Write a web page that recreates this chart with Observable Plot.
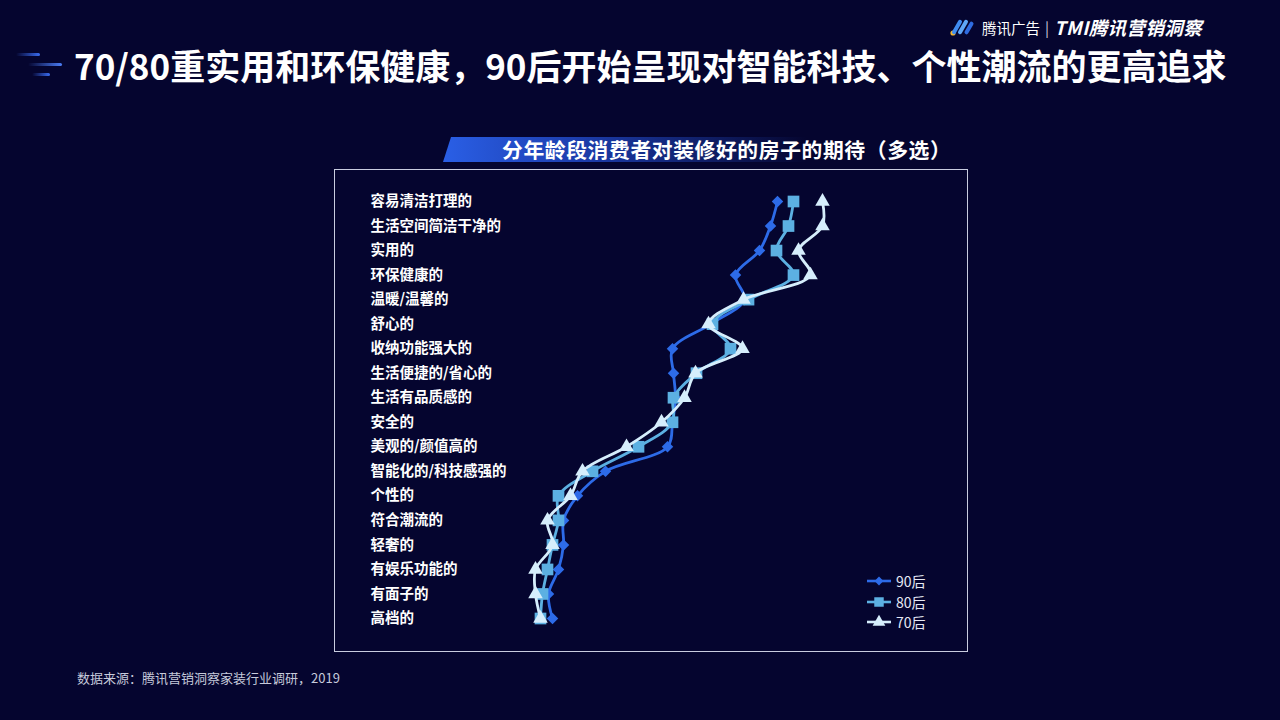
<!DOCTYPE html>
<html><head><meta charset="utf-8">
<script src="https://cdn.jsdelivr.net/npm/d3@7"></script>
<script src="https://cdn.jsdelivr.net/npm/@observablehq/plot@0.6"></script>
<style>
html,body{margin:0;padding:0;}
body{width:1280px;height:720px;background:#05052f;position:relative;overflow:hidden;font-family:"Noto Sans CJK SC","Noto Sans",sans-serif;color:#fff;}
.abs{position:absolute;}
#title{left:74px;top:42px;font-size:35px;font-weight:700;white-space:nowrap;letter-spacing:0px;line-height:46px;}
#deco div{position:absolute;height:3px;border-radius:2px;}
#logo{left:950px;top:14px;height:26px;white-space:nowrap;display:flex;align-items:center;}
#banner{left:443px;top:137px;width:520px;height:25px;background:linear-gradient(90deg,#2a5fe6 0%,#1d3fb0 25%,rgba(5,5,47,0) 70%);clip-path:polygon(8px 0,100% 0,100% 100%,0 100%);}
#subtitle{left:502px;top:135px;font-size:20.8px;font-weight:700;white-space:nowrap;line-height:28px;letter-spacing:0.6px;}
#box{left:334px;top:169px;width:632px;height:481px;border:1px solid #c9cde0;}
#chart{position:absolute;left:0;top:0;}
#chart svg{display:block;}
#legend{left:866px;top:571px;font-size:14px;color:#e6e9f5;}
.li{display:flex;align-items:center;height:20.5px;}
#source{left:77px;top:668px;font-size:13px;color:#c6cadb;white-space:nowrap;}
</style></head>
<body>
<div id="deco" class="abs" style="left:0;top:0;">
  <div style="left:16px;top:53px;width:24px;background:linear-gradient(90deg,rgba(40,90,230,0),#3a6cf0);"></div>
  <div style="left:28px;top:63px;width:34px;background:linear-gradient(90deg,rgba(40,90,230,0),#4a7cf5);"></div>
  <div style="left:32px;top:73px;width:18px;background:linear-gradient(90deg,rgba(40,90,230,0),#3a6cf0);"></div>
</div>
<div id="title" class="abs">70/80重实用和环保健康，90后开始呈现对智能科技、个性潮流的更高追求</div>
<div id="logo" class="abs">
  <svg width="26" height="20" viewBox="0 0 26 20">
    <circle cx="3" cy="16" r="2.6" fill="#f2b632"/>
    <rect x="5" y="2" width="4" height="16" rx="2" transform="rotate(30 7 10)" fill="#3f8cf0"/>
    <rect x="11" y="2" width="4" height="16" rx="2" transform="rotate(30 13 10)" fill="#5fa8f7"/>
    <rect x="17" y="4" width="4" height="14" rx="2" transform="rotate(30 19 11)" fill="#2f6ce0"/>
  </svg>
  <span style="font-size:14.5px;margin-left:6px;">腾讯广告</span>
  <span style="font-size:15px;margin:0 5px;color:#ccd;">|</span>
  <span style="font-size:18.5px;font-weight:700;font-style:italic;letter-spacing:0.4px;">TMI腾讯营销洞察</span>
</div>
<div id="banner" class="abs"></div>
<div id="subtitle" class="abs">分年龄段消费者对装修好的房子的期待（多选）</div>
<div id="box" class="abs"><div id="chart"></div></div>
<div id="legend" class="abs"></div>
<div id="source" class="abs">数据来源：腾讯营销洞察家装行业调研，2019</div>
<script>
const categories = ["容易清洁打理的","生活空间简洁干净的","实用的","环保健康的","温暖/温馨的","舒心的","收纳功能强大的","生活便捷的/省心的","生活有品质感的","安全的","美观的/颜值高的","智能化的/科技感强的","个性的","符合潮流的","轻奢的","有娱乐功能的","有面子的","高档的"];
const seriesNames = ["90后","80后","70后"];
const values90 = [33.7,33.0,31.9,29.5,30.4,27.0,23.2,23.3,23.5,23.2,22.7,16.5,13.7,12.3,12.3,11.8,10.8,11.2];
const values80 = [35.3,34.8,33.6,35.3,30.8,27.2,29.0,25.6,23.3,23.2,19.8,15.2,11.8,11.8,11.2,10.7,10.2,10.0];
const values70 = [38.2,38.2,35.8,37.0,30.3,26.8,30.2,25.5,24.4,22.1,18.6,14.2,13.0,10.7,11.2,9.5,9.5,10.0];

const colors = {"90后":"#2d6be8","80后":"#5cb0e2","70后":"#d6eefc"};
const symbols = {"90后":"diamond2","80后":"square","70后":"triangle"};
const radii = {"90后":5.2,"80后":6.6,"70后":5.4};

const rows = [];
[values90, values80, values70].forEach((vals, si) => {
  vals.forEach((v, i) => rows.push({series: seriesNames[si], cat: categories[i], value: v}));
});

const marks = [
  Plot.text(categories, {y: d => d, text: d => d, frameAnchor: "left", textAnchor: "start", fill: "#ffffff", fontSize: 14.5, fontWeight: 600})
];
seriesNames.forEach(s => {
  const d = rows.filter(r => r.series === s);
  marks.push(Plot.line(d, {x: "value", y: "cat", stroke: colors[s], strokeWidth: 2.8, curve: "catmull-rom"}));
  marks.push(Plot.dot(d, {x: "value", y: "cat", symbol: () => symbols[s], r: radii[s], fill: colors[s], stroke: "none"}));
});

const chart = Plot.plot({
  width: 632, height: 481,
  marginLeft: 35, marginRight: 20, marginTop: 31, marginBottom: 33,
  x: {domain: [0, 50], range: [105, 605], axis: null},
  y: {type: "point", domain: categories, range: [31, 448], padding: 0, round: false, axis: null},
  symbol: {type: "identity"},
  style: {background: "transparent", color: "#fff", fontFamily: "'Noto Sans CJK SC', sans-serif", overflow: "visible"},
  marks
});
document.getElementById("chart").appendChild(chart);

// legend
const lg = document.getElementById("legend");
seriesNames.forEach(s => {
  const row = document.createElement("div");
  row.className = "li";
  const sym = d3.symbol().type(s === "90后" ? d3.symbolDiamond2 : s === "80后" ? d3.symbolSquare : d3.symbolTriangle)
    .size(s === "90后" ? 50 : s === "80后" ? 90 : 70)();
  row.innerHTML = `<svg width="28" height="16"><line x1="1" x2="25" y1="8" y2="8" stroke="${colors[s]}" stroke-width="2.6"/><path d="${sym}" transform="translate(13,8)" fill="${colors[s]}"/></svg><span style="margin-left:2px">${s}</span>`;
  lg.appendChild(row);
});
</script>
</body></html>
